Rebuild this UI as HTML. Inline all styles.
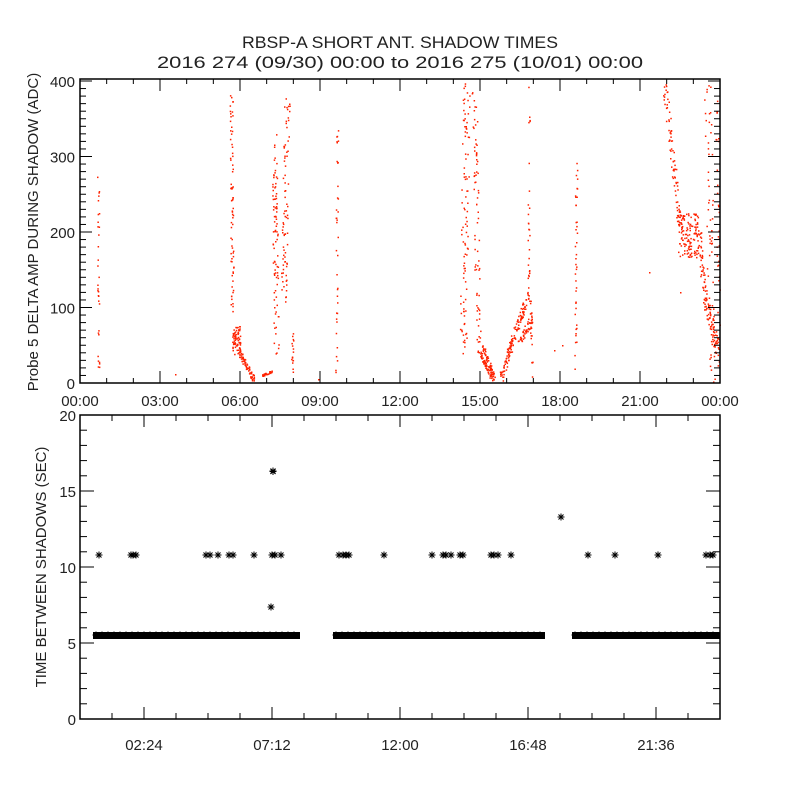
<!DOCTYPE html>
<html><head><meta charset="utf-8"><style>
html,body{margin:0;padding:0;background:#fff;}
svg{display:block;font-family:"Liberation Sans",sans-serif;}
</style></head><body>
<svg id="s" width="800" height="800" viewBox="0 0 800 800" xmlns="http://www.w3.org/2000/svg">
<rect width="800" height="800" fill="#fff"/>
<text x="400" y="48" font-size="17" fill="#222" text-anchor="middle" textLength="316" lengthAdjust="spacingAndGlyphs">RBSP-A SHORT ANT. SHADOW TIMES</text>
<text x="400" y="68" font-size="17" fill="#222" text-anchor="middle" textLength="486" lengthAdjust="spacingAndGlyphs">2016 274 (09/30) 00:00 to 2016 275 (10/01) 00:00</text>
<g id="red" fill="#ff2200"></g>
<g id="blk" stroke="#000" stroke-width="1" fill="none"></g>
<g id="ax" stroke="#000" stroke-width="1.5" fill="none"></g>
<g id="tx" font-size="15" fill="#222"></g>
<text transform="translate(38,232) rotate(-90)" font-size="15" fill="#222" text-anchor="middle">Probe 5 DELTA AMP DURING SHADOW (ADC)</text>
<text transform="translate(46,567) rotate(-90)" font-size="15" fill="#222" text-anchor="middle">TIME BETWEEN SHADOWS (SEC)</text>
</svg>
<script>
var NS="http://www.w3.org/2000/svg";
function el(p,n,a){var e=document.createElementNS(NS,n);for(var k in a)e.setAttribute(k,a[k]);p.appendChild(e);return e;}
var seed=12345;function rnd(){seed=(seed*16807)%2147483647;return seed/2147483647;}
var red=document.getElementById('red'),blk=document.getElementById('blk'),ax=document.getElementById('ax'),tx=document.getElementById('tx');
function dot(x,y){el(red,'rect',{x:x.toFixed(1),y:y.toFixed(1),width:1.5,height:1.5});}
function streak(x1,y1,x2,y2,n,j){n=Math.round(n*0.8);for(var i=0;i<n;i++){var t=rnd();dot(x1+(x2-x1)*t+(rnd()-.5)*j,y1+(y2-y1)*t+(rnd()-.5)*j);}}
function cloud(cx,cy,rx,ry,n){for(var i=0;i<n;i++){dot(cx+(rnd()-.5)*2*rx,cy+(rnd()-.5)*2*ry);}}
streak(98,170,98,378,40,2);
streak(231,95,232,320,90,3);
cloud(236,340,4,15,70);
streak(238,350,253,379,90,4);
streak(262,375,272,371,40,2);
streak(274,130,276,355,110,5);
streak(287,100,283,300,100,6);
streak(292,330,292,372,20,2);
streak(337,125,336,380,45,2);
streak(466,84,463,350,120,7);
streak(474,84,478,345,90,5);
streak(478,350,492,379,70,3);
streak(482,345,494,379,70,3);
streak(500,379,525,300,160,5);
streak(520,340,530,320,50,5);
streak(529,83,528,300,40,2);
streak(530,300,532,380,30,2);
streak(576,160,575,370,50,2);
streak(664,82,680,230,110,5);
cloud(688,235,10,22,120);
streak(698,230,705,300,60,5);
streak(705,300,717,350,80,6);
streak(707,80,712,380,80,8);
streak(716,80,719,370,40,3);
dot(649,272);dot(680,292);dot(554,350);dot(562,345);dot(175,374);dot(318,379);
el(ax,'rect',{x:80,y:79,width:640,height:304});
function Y1(v){return 383-v*0.755;}
for(var v=0;v<=400;v+=10){var y=Y1(v),L=(v%100==0)?12:6;el(ax,'line',{x1:80,y1:y,x2:80+L,y2:y,'stroke-width':1});el(ax,'line',{x1:720,y1:y,x2:720-L,y2:y,'stroke-width':1});}
for(var v=0;v<=400;v+=100){el(tx,'text',{x:75,y:Y1(v)+6,'text-anchor':'end'}).textContent=v;}
var lab=['00:00','03:00','06:00','09:00','12:00','15:00','18:00','21:00','00:00'];
for(var h=0;h<=24;h++){var x=80+h*640/24,L=(h%3==0)?12:5;el(ax,'line',{x1:x,y1:383,x2:x,y2:383-L,'stroke-width':1});el(ax,'line',{x1:x,y1:79,x2:x,y2:79+L,'stroke-width':1});}
for(var i=0;i<9;i++){el(tx,'text',{x:80+i*80,y:406,'text-anchor':'middle'}).textContent=lab[i];}
el(ax,'rect',{x:80,y:415,width:640,height:304});
function Y2(v){return 719-v*15.2;}
for(var v=0;v<=20;v++){var y=Y2(v),L=(v%5==0)?14:7;el(ax,'line',{x1:80,y1:y,x2:80+L,y2:y,'stroke-width':1});el(ax,'line',{x1:720,y1:y,x2:720-L,y2:y,'stroke-width':1});}
for(var v=0;v<=20;v+=5){el(tx,'text',{x:76,y:Y2(v)+6,'text-anchor':'end'}).textContent=v;}
for(var k=0;k<=20;k++){var x=80+k*32,L=(k%4==2)?12:6;el(ax,'line',{x1:x,y1:719,x2:x,y2:719-L,'stroke-width':1});el(ax,'line',{x1:x,y1:415,x2:x,y2:415+L,'stroke-width':1});}
var bl=['02:24','07:12','12:00','16:48','21:36'];
for(var i=0;i<5;i++){el(tx,'text',{x:144+i*128,y:750,'text-anchor':'middle'}).textContent=bl[i];}
function star(x,y){var r=3.5,d=2.5;el(blk,'path',{d:'M'+(x-r)+' '+y+'h'+(2*r)+'M'+x+' '+(y-r)+'v'+(2*r)+'M'+(x-d)+' '+(y-d)+'l'+(2*d)+' '+(2*d)+'M'+(x-d)+' '+(y+d)+'l'+(2*d)+' '+(-2*d)});}
var segs=[[93,300],[333,545],[572,720]];
segs.forEach(function(s){el(blk,'rect',{x:s[0],y:632,width:s[1]-s[0],height:7,fill:'#000',stroke:'none'});for(var x=s[0]+3;x<s[1]-2;x+=6)star(x,635);});
var up=[99,131,133,136,206,210,218,229,233,254,272,275,281,339,343,346,349,384,432,443,446,451,460,463,491,494,498,511,588,615,658,706,710,713];
up.forEach(function(x){star(x,555);});
star(561,517);star(273,471);star(273,471.5);star(271,607);
</script>
</body></html>
